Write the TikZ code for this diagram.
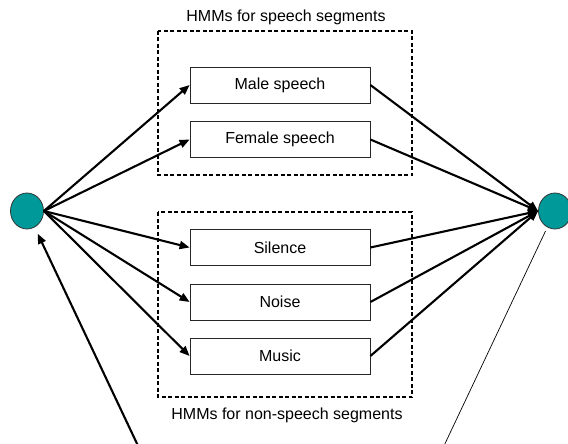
\documentclass[tikz,border=0pt]{standalone}
\usepackage{fontspec}
\setmainfont{Liberation Sans}
\usetikzlibrary{arrows.meta,shapes.geometric}
\definecolor{stateteal}{RGB}{0,153,153}
\tikzset{
    hmm/.style={draw=black!85, line width=0.8pt, minimum width=180pt, minimum height=36pt, inner sep=0pt},
    state/.style={ellipse, draw=black!80, line width=0.8pt, fill=stateteal, minimum width=33pt, minimum height=36pt, inner sep=0pt},
    groupbox/.style={line width=1.4pt, dash pattern=on 4pt off 2.5pt},
    link/.style={line width=2.1pt, -{Triangle[length=10pt,width=8pt]}},
}
\begin{document}
\begin{tikzpicture}[x=1pt, y=-1pt, font=\fontsize{16}{19}\selectfont]
        \useasboundingbox (0,0) rectangle (568,444);
        % Draw groups
        \draw [groupbox] (158,31) rectangle (412,175);
        \draw [groupbox] (158,212) rectangle (412,397);
        \node (speechlabel) at (286,17) {HMMs for speech segments};
        \node (nonspeechlabel) at (287,415) {HMMs for non-speech segments};
        % Draw states
        \node [state] (start) at (27,211) {};
        \node [state] (end) at (555,211) {};
        % Draw models
        \foreach \y/\name/\txt in {85/male/Male speech, 139.5/female/Female speech, 247.5/silence/Silence, 302/noise/Noise, 356/music/Music} {
            \node [hmm] (\name) at (280,\y) {\txt};
            \draw [link] (start.east) -- (\name.west);
            \draw [link] (\name.east) -- (end.west);
        }
        % Draw loop ends
        \coordinate (feedin) at (140,450);
        \coordinate (feedout) at (442,450);
        \draw [link, shorten >=7pt] (feedin) -- (start);
        \draw [line width=0.7pt, shorten >=4pt] (feedout) -- (end);
    \end{tikzpicture}
\end{document}
